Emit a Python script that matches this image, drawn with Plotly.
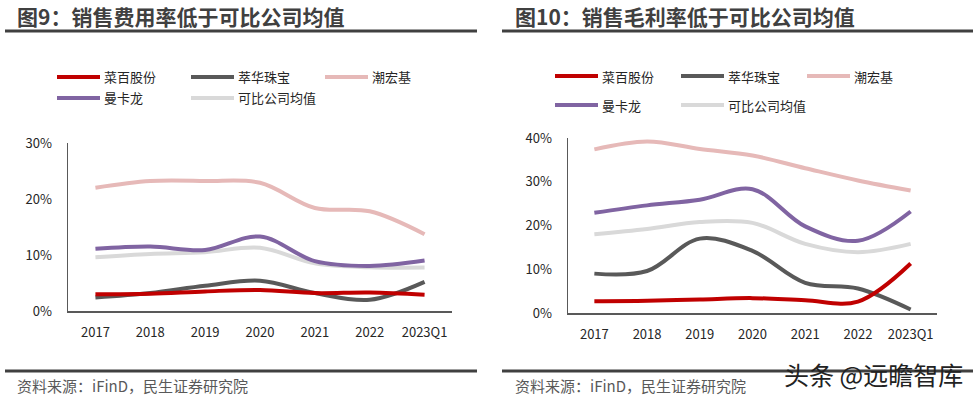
import plotly.graph_objects as go

categories = ["2017", "2018", "2019", "2020", "2021", "2022", "2023Q1"]
series_names = ["菜百股份", "萃华珠宝", "潮宏基", "曼卡龙", "可比公司均值"]
series_colors = ["#C00000", "#595959", "#E6B9B8", "#8064A2", "#D9D9D9"]

# 图9 销售费用率 (%)
sell_exp_caibai = [3.0, 3.1, 3.5, 3.75, 3.2, 3.3, 2.9]
sell_exp_cuihua = [2.4, 3.2, 4.5, 5.4, 3.2, 2.0, 5.2]
sell_exp_chaohongji = [22.0, 23.2, 23.2, 22.9, 18.4, 17.8, 13.7]
sell_exp_mankalong = [11.1, 11.5, 10.9, 13.3, 8.9, 8.05, 9.0]
sell_exp_avg = [9.6, 10.2, 10.5, 11.3, 8.5, 7.8, 7.75]

# 图10 销售毛利率 (%)
gm_caibai = [2.7, 2.8, 3.1, 3.4, 2.9, 2.6, 11.3]
gm_cuihua = [9.0, 9.6, 17.0, 14.2, 6.9, 5.6, 0.8]
gm_chaohongji = [37.4, 39.2, 37.5, 36.0, 33.1, 30.3, 28.0]
gm_mankalong = [22.9, 24.6, 25.9, 28.3, 19.8, 16.5, 23.2]
gm_avg = [18.0, 19.2, 20.8, 20.6, 15.8, 13.9, 15.8]

left_series = [sell_exp_caibai, sell_exp_cuihua, sell_exp_chaohongji, sell_exp_mankalong, sell_exp_avg]
right_series = [gm_caibai, gm_cuihua, gm_chaohongji, gm_mankalong, gm_avg]

left_ticks = [0, 10, 20, 30]
right_ticks = [0, 10, 20, 30, 40]

FONT = "Noto Sans CJK SC, Microsoft YaHei, sans-serif"
W, H = 976, 397

fig = go.Figure()

# draw order: lighter lines behind
order = [2, 4, 3, 1, 0]
for i in order:
    for data, xa, ya in ((left_series, "x", "y"), (right_series, "x2", "y2")):
        fig.add_trace(go.Scatter(
            x=categories, y=data[i], name=series_names[i], mode="lines",
            line=dict(color=series_colors[i], width=4, shape="spline", smoothing=1.0),
            xaxis=xa, yaxis=ya, showlegend=False, hoverinfo="skip"))

def px_x(p):
    return p / W

def px_y(p):
    return 1 - p / H

axis_common = dict(showgrid=False, zeroline=False, showline=True, linecolor="#595959",
                   linewidth=1.5, ticks="", tickfont=dict(family=FONT, size=13, color="#262626"))

fig.update_layout(
    width=W, height=H, margin=dict(l=0, r=0, t=0, b=0, autoexpand=False),
    paper_bgcolor="white", plot_bgcolor="white",
    font=dict(family=FONT, color="#262626"),
    showlegend=False,
    xaxis=dict(domain=[px_x(68), px_x(452)], anchor="y", type="category",
               range=[-0.5, 6.5], ticklabelstandoff=9, **axis_common),
    yaxis=dict(domain=[px_y(311), px_y(143)], anchor="x", range=[0, 30],
               tickvals=left_ticks, ticktext=[f"{v}%" for v in left_ticks],
               ticklabelstandoff=12, **axis_common),
    xaxis2=dict(domain=[px_x(568), px_x(937)], anchor="y2", type="category",
                range=[-0.5, 6.5], ticklabelstandoff=9, **axis_common),
    yaxis2=dict(domain=[px_y(313), px_y(138)], anchor="x2", range=[0, 40],
                tickvals=right_ticks, ticktext=[f"{v}%" for v in right_ticks],
                ticklabelstandoff=12, **axis_common),
)

shapes = []
annotations = []

# manual legends (3 items in first row, 2 in second)
legend_layouts = [
    dict(x0=57, col=134, rows=(77, 98)),
    dict(x0=555, col=126, rows=(76, 105)),
]
for lg in legend_layouts:
    for i, name in enumerate(series_names):
        r, c = divmod(i, 3)
        xs = lg["x0"] + c * lg["col"]
        yy = lg["rows"][r]
        shapes.append(dict(type="line", xref="paper", yref="paper",
                           x0=px_x(xs), x1=px_x(xs + 43), y0=px_y(yy), y1=px_y(yy),
                           line=dict(color=series_colors[i], width=4)))
        annotations.append(dict(text=name, x=px_x(xs + 45), y=px_y(yy), xanchor="left",
                                yanchor="middle", font=dict(family=FONT, size=13, color="#262626")))

for x0, x1 in ((5, 477), (502, 973)):
    shapes.append(dict(type="line", xref="paper", yref="paper", x0=px_x(x0), x1=px_x(x1),
                       y0=px_y(31), y1=px_y(31), line=dict(color="#404040", width=3)))
    shapes.append(dict(type="line", xref="paper", yref="paper", x0=px_x(x0), x1=px_x(x1),
                       y0=px_y(371), y1=px_y(371), line=dict(color="#404040", width=3)))

annotations += [
    dict(text="<b>图9：销售费用率低于可比公司均值</b>", x=px_x(15), y=px_y(16), xanchor="left",
         yanchor="middle", font=dict(family=FONT, size=21, color="#404040")),
    dict(text="<b>图10：销售毛利率低于可比公司均值</b>", x=px_x(513), y=px_y(16), xanchor="left",
         yanchor="middle", font=dict(family=FONT, size=21, color="#404040")),
    dict(text="资料来源：iFinD，民生证券研究院", x=px_x(15), y=px_y(385), xanchor="left",
         yanchor="middle", font=dict(family=FONT, size=15, color="#595959")),
    dict(text="资料来源：iFinD，民生证券研究院", x=px_x(513), y=px_y(385), xanchor="left",
         yanchor="middle", font=dict(family=FONT, size=15, color="#595959")),
    dict(text="头条 @远瞻智库", x=px_x(782), y=px_y(374), xanchor="left", yanchor="middle",
         font=dict(family=FONT, size=25, color="#222222")),
]
for a in annotations:
    a.update(xref="paper", yref="paper", showarrow=False)

fig.update_layout(shapes=shapes, annotations=annotations)

fig.write_html(
    "out.html",
    config={"displayModeBar": False, "staticPlot": True},
    post_script="document.body.style.margin='0';document.body.style.overflow='hidden';",
)
